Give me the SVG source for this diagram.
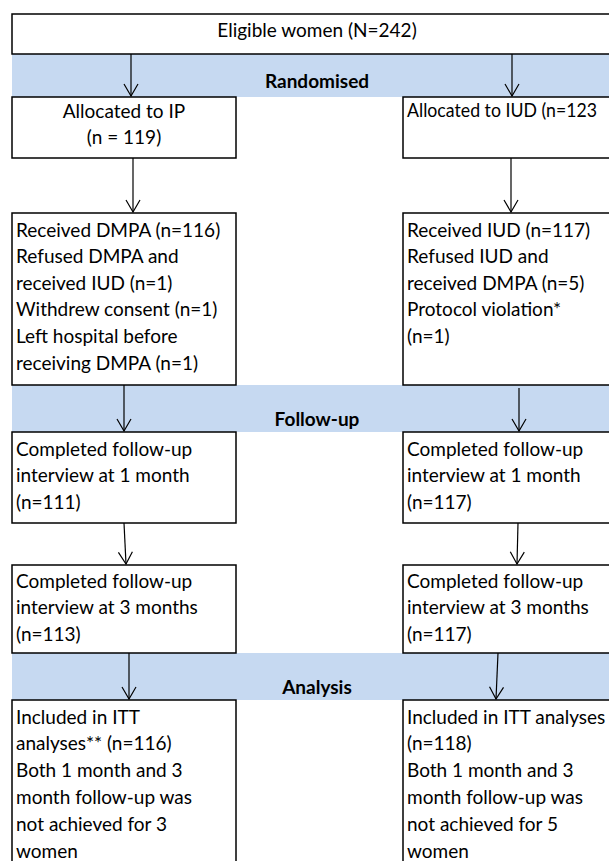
<svg xmlns="http://www.w3.org/2000/svg" width="609" height="861" viewBox="0 0 609 861">
<defs>
<marker id="a" markerUnits="userSpaceOnUse" markerWidth="14" markerHeight="16" viewBox="0 0 14 16" refX="13" refY="8" orient="auto">
<path d="M1,1 L13,8 L1,15" fill="none" stroke="#000" stroke-width="1.2"/>
</marker>
</defs>
<style>
.box{fill:#fff;stroke:#000;stroke-width:1.5}
.band{fill:#c6d9f1}
.t{font-family:Lato,"Liberation Sans",sans-serif;font-size:19px;fill:#000}
.b{font-weight:bold;text-anchor:middle}
.c{text-anchor:middle}
.conn line{stroke:#000;stroke-width:1.2;marker-end:url(#a)}
</style>
<rect width="609" height="861" fill="#fff"/>
<g id="band-randomised"><rect class="band" x="12" y="54" width="600" height="43"/><text class="t b" x="317" y="88">Randomised</text></g>
<g id="band-followup"><rect class="band" x="12" y="385" width="600" height="47"/><text class="t b" x="317" y="426">Follow-up</text></g>
<g id="band-analysis"><rect class="band" x="12" y="653" width="600" height="47"/><text class="t b" x="317" y="694">Analysis</text></g>

<g id="eligible"><rect class="box" x="12" y="14" width="610" height="40"/><text class="t c" x="317" y="37">Eligible women (N=242)</text></g>

<g id="alloc-ip"><rect class="box" x="12" y="97" width="224" height="61"/><text class="t c" x="124" y="118">Allocated to IP</text><text class="t c" x="124" y="144">(n = 119)</text></g>
<g id="alloc-iud"><rect class="box" x="403" y="97" width="220" height="61"/><text class="t" x="407" y="117" textLength="190" lengthAdjust="spacingAndGlyphs">Allocated to IUD (n=123</text></g>

<g id="recv-ip"><rect class="box" x="12" y="213" width="224" height="172"/>
<text class="t" x="16" y="237">Received DMPA (n=116)</text>
<text class="t" x="16" y="263">Refused DMPA and</text>
<text class="t" x="16" y="290">received IUD (n=1)</text>
<text class="t" x="16" y="316">Withdrew consent (n=1)</text>
<text class="t" x="16" y="343">Left hospital before</text>
<text class="t" x="16" y="370">receiving DMPA (n=1)</text></g>
<g id="recv-iud"><rect class="box" x="403" y="213" width="220" height="172"/>
<text class="t" x="407" y="237">Received IUD (n=117)</text>
<text class="t" x="407" y="263">Refused IUD and</text>
<text class="t" x="407" y="290">received DMPA (n=5)</text>
<text class="t" x="407" y="316">Protocol violation*</text>
<text class="t" x="407" y="343">(n=1)</text></g>

<g id="fu1-ip"><rect class="box" x="12" y="432" width="224" height="91"/>
<text class="t" x="16" y="456">Completed follow-up</text>
<text class="t" x="16" y="482">interview at 1 month</text>
<text class="t" x="16" y="509">(n=111)</text></g>
<g id="fu1-iud"><rect class="box" x="403" y="432" width="220" height="91"/>
<text class="t" x="407" y="456">Completed follow-up</text>
<text class="t" x="407" y="482">interview at 1 month</text>
<text class="t" x="407" y="509">(n=117)</text></g>

<g id="fu3-ip"><rect class="box" x="12" y="565" width="224" height="88"/>
<text class="t" x="16" y="588">Completed follow-up</text>
<text class="t" x="16" y="614">interview at 3 months</text>
<text class="t" x="16" y="641">(n=113)</text></g>
<g id="fu3-iud"><rect class="box" x="403" y="565" width="220" height="88"/>
<text class="t" x="407" y="588">Completed follow-up</text>
<text class="t" x="407" y="614">interview at 3 months</text>
<text class="t" x="407" y="641">(n=117)</text></g>

<g id="itt-ip"><rect class="box" x="12" y="700" width="224" height="170"/>
<text class="t" x="16" y="724">Included in ITT</text>
<text class="t" x="16" y="750">analyses** (n=116)</text>
<text class="t" x="16" y="777">Both 1 month and 3</text>
<text class="t" x="16" y="804">month follow-up was</text>
<text class="t" x="16" y="831">not achieved for 3</text>
<text class="t" x="16" y="858">women</text></g>
<g id="itt-iud"><rect class="box" x="403" y="700" width="220" height="170"/>
<text class="t" x="407" y="724">Included in ITT analyses</text>
<text class="t" x="407" y="750">(n=118)</text>
<text class="t" x="407" y="777">Both 1 month and 3</text>
<text class="t" x="407" y="804">month follow-up was</text>
<text class="t" x="407" y="831">not achieved for 5</text>
<text class="t" x="407" y="858">women</text></g>

<g id="connectors" class="conn">
<line x1="131" y1="54" x2="131" y2="96"/>
<line x1="512" y1="54" x2="512" y2="96"/>
<line x1="133" y1="158" x2="133" y2="212"/>
<line x1="511" y1="158" x2="511" y2="212"/>
<line x1="124" y1="385" x2="124" y2="431"/>
<line x1="519" y1="388" x2="519" y2="431"/>
<line x1="124" y1="523" x2="126" y2="564"/>
<line x1="518" y1="523" x2="517" y2="564"/>
<line x1="129" y1="653" x2="129" y2="699"/>
<line x1="498" y1="653" x2="496" y2="699"/>
</g>
</svg>
